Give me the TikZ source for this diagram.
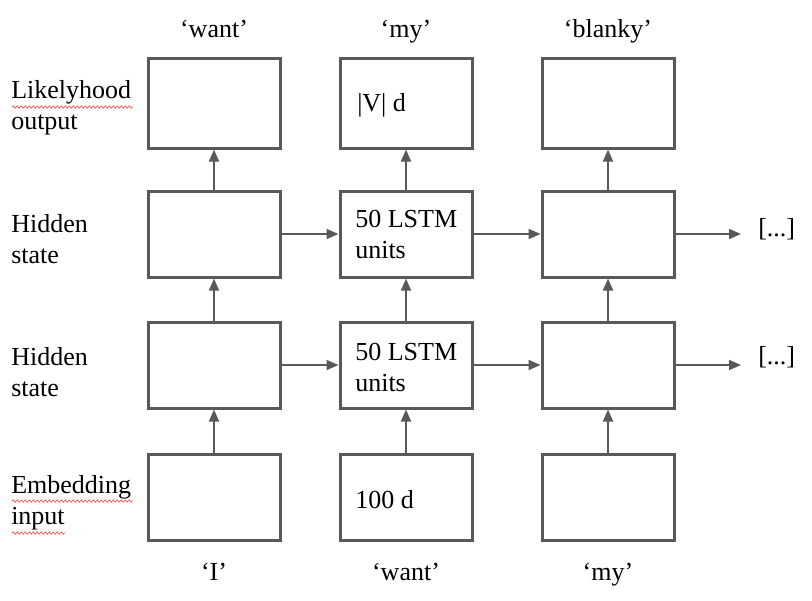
\documentclass[tikz,border=0pt]{standalone}
\usepackage{fontspec}
\setmainfont{Liberation Serif}
\usetikzlibrary{arrows.meta,decorations.pathmorphing}
\definecolor{linegray}{HTML}{595959}
\tikzset{
  cell/.style={draw=linegray, line width=2.25pt, minimum width=99pt, minimum height=64.5pt, inner sep=0pt},
  flow/.style={draw=linegray, line width=1.3pt, -{Triangle[length=9pt,width=7.5pt]}},
  celltext/.style={anchor=west, align=left, inner sep=0pt},
  rowlabel/.style={anchor=west, align=left, inner sep=0pt},
  word/.style={anchor=base, inner sep=0pt},
  more/.style={anchor=west, inner xsep=12.75pt, inner ysep=0pt},
  spell/.style={draw=red!75, line width=0.5pt, decorate, decoration={snake, amplitude=0.8pt, segment length=3pt}}
}
\begin{document}
\begin{tikzpicture}[x=0.75pt,y=-0.75pt,font=\fontsize{19.5}{23.25}\selectfont]
\useasboundingbox (0,0) rectangle (812,600);

% boxes
\node[cell, minimum height=67.5pt] (out1) at (214,103) {};
\node[cell, minimum height=67.5pt] (out2) at (406,103) {};
\node[cell, minimum height=67.5pt] (out3) at (608,103) {};
\node[cell] (up1) at (214,234) {};
\node[cell] (up2) at (406,234) {};
\node[cell] (up3) at (608,234) {};
\node[cell] (low1) at (214,365) {};
\node[cell] (low2) at (406,365) {};
\node[cell] (low3) at (608,365) {};
\node[cell] (emb1) at (214,497) {};
\node[cell] (emb2) at (406,497) {};
\node[cell] (emb3) at (608,497) {};

% texts in the middle column
\node[celltext] (vd) at (357,105) {|V| d};
\node[celltext] (upunits) at (355,234) {50 LSTM\\units};
\node[celltext] (lowunits) at (355,367) {50 LSTM\\units};
\node[celltext] (embd) at (355,500) {100 d};

% row labels
\node[rowlabel] (lbout) at (11,108) {Likelyhood\\output};
\node[rowlabel] (lbup) at (11,239) {Hidden\\state};
\node[rowlabel] (lblow) at (11,372) {Hidden\\state};
\node[rowlabel] (lbemb) at (11,503) {Embedding\\input};

% words
\node[word] (w1) at (214,37) {`want'};
\node[word] (w2) at (406,37) {`my'};
\node[word] (w3) at (608,37) {`blanky'};
\node[word] (x1) at (214,580) {`I'};
\node[word] (x2) at (406,580) {`want'};
\node[word] (x3) at (608,580) {`my'};

\node[more] (upmore) at (741,229) {[...]};
\node[more] (lowmore) at (741,357) {[...]};

% spelling marks
\path[spell] (12,107) -- (133,107);
\path[spell] (12,501) -- (133,501);
\path[spell] (12,533) -- (65,533);

\path[flow] (emb1) -- (low1);
\path[flow] (emb2) -- (low2);
\path[flow] (emb3) -- (low3);
\path[flow] (low1) -- (up1);
\path[flow] (low2) -- (up2);
\path[flow] (low3) -- (up3);
\path[flow] (up1) -- (out1);
\path[flow] (up2) -- (out2);
\path[flow] (up3) -- (out3);

\path[flow] (low1) -- (low2);
\path[flow] (low2) -- (low3);
\path[flow] (low3) -- (low3 -| lowmore.west);
\path[flow] (up1) -- (up2);
\path[flow] (up2) -- (up3);
\path[flow] (up3) -- (up3 -| upmore.west);
\end{tikzpicture}
\end{document}
